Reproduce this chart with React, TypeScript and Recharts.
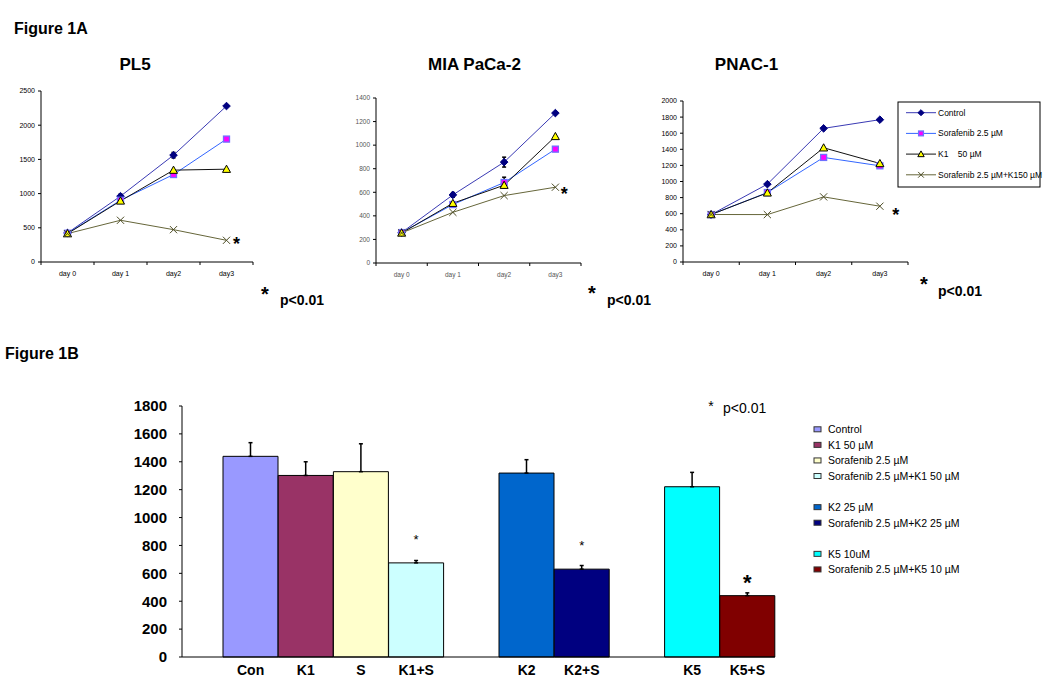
import React from 'react';
import { LineChart, Line, XAxis, YAxis, ErrorBar, LabelList, BarChart, Bar, Cell } from 'recharts';

// ---- Figure 1A data (cell counts per day) ----
const DAYS = ['day 0', 'day 1', 'day2', 'day3'];
const SERIES_NAMES = ['Control', 'Sorafenib 2.5 µM', 'K1 \u00a0\u00a0 50 µM', 'Sorafenib 2.5 µM+K150 µM'];

const PL5_CONTROL = [425, 962, 1562, 2280];
const PL5_SORAFENIB = [420, 903, 1279, 1797];
const PL5_K1 = [415, 893, 1343, 1357];
const PL5_COMBO = [415, 610, 473, 317];
const PL5_CONTROL_ERR = [0, 30, 40, 0];
const PL5_SORAFENIB_ERR = [0, 0, 0, 0];
const PL5_TICKS = [0, 500, 1000, 1500, 2000, 2500];

const MIA_CONTROL = [258, 578, 856, 1272];
const MIA_SORAFENIB = [258, 496, 683, 966];
const MIA_K1 = [255, 507, 660, 1074];
const MIA_COMBO = [255, 430, 572, 643];
const MIA_CONTROL_ERR = [0, 20, 42, 0];
const MIA_SORAFENIB_ERR = [0, 0, 45, 0];
const MIA_TICKS = [0, 200, 400, 600, 800, 1000, 1200, 1400];

const PNAC_CONTROL = [589, 967, 1660, 1768];
const PNAC_SORAFENIB = [589, 863, 1299, 1195];
const PNAC_K1 = [590, 859, 1419, 1224];
const PNAC_COMBO = [590, 589, 809, 693];
const PNAC_ERR = [0, 0, 0, 0];
const PNAC_TICKS = [0, 200, 400, 600, 800, 1000, 1200, 1400, 1600, 1800, 2000];

// ---- Figure 1B data ----
const BAR_LABELS = ['Con', 'K1', 'S', 'K1+S', ' ', 'K2', 'K2+S', '  ', 'K5', 'K5+S'];
const BAR_VALUES = [1439, 1302, 1329, 675, null, 1319, 630, null, 1221, 440];
const BAR_ERRORS = [98, 98, 200, 17, null, 96, 26, null, 103, 20];
const BAR_SIGNIFICANT = [false, false, false, true, false, false, true, false, false, true];
const BAR_LEGEND = [
  'Control',
  'K1 50 µM',
  'Sorafenib 2.5 µM',
  'Sorafenib 2.5 µM+K1 50 µM',
  null,
  'K2 25 µM',
  'Sorafenib 2.5 µM+K2 25 µM',
  null,
  'K5 10uM',
  'Sorafenib 2.5 µM+K5 10 µM',
];
const BAR_TICKS = [0, 200, 400, 600, 800, 1000, 1200, 1400, 1600, 1800];

// styles
const FONT = '"Liberation Sans", Arial, sans-serif';
const BAR_COLORS = ['#9999ff', '#993366', '#ffffcc', '#ccffff', 'none', '#0066cc', '#000080', 'none', '#00ffff', '#800000'];
const BIG_STAR_LABEL = 'K5+S';

const SERIES = [
  { key: 'control', kind: 'diamond', stroke: '#3a3ab4', fill: '#000080', mstroke: '#000080' },
  { key: 'sorafenib', kind: 'square', stroke: '#3366ff', fill: '#ff00ff', mstroke: '#6f6fff' },
  { key: 'k1', kind: 'triangle', stroke: '#111111', fill: '#ffff00', mstroke: '#000000' },
  { key: 'combo', kind: 'x', stroke: '#66663a', fill: 'none', mstroke: '#4d4d26' },
];

function Marker({ kind, cx, cy, fill, stroke, s = 1 }: any) {
  if (cx == null || cy == null) return null;
  if (kind === 'diamond') {
    const r = 3.8 * s;
    return <path d={`M${cx},${cy - r}L${cx + r},${cy}L${cx},${cy + r}L${cx - r},${cy}Z`} fill={fill} stroke={stroke} />;
  }
  if (kind === 'square') {
    const r = 3 * s;
    return <rect x={cx - r} y={cy - r} width={2 * r} height={2 * r} fill={fill} stroke={stroke} strokeWidth={1.3} />;
  }
  if (kind === 'triangle') {
    const r = 4 * s;
    return <path d={`M${cx},${cy - r}L${cx + r},${cy + r * 0.8}L${cx - r},${cy + r * 0.8}Z`} fill={fill} stroke={stroke} />;
  }
  const r = 3.6 * s;
  return (
    <g stroke={stroke} strokeWidth={1}>
      <line x1={cx - r} y1={cy - r} x2={cx + r} y2={cy + r} />
      <line x1={cx - r} y1={cy + r} x2={cx + r} y2={cy - r} />
    </g>
  );
}

function DayTick({ x, y, payload, index, half, fontSize, color }: any) {
  return (
    <g>
      <line x1={x - half} y1={y} x2={x - half} y2={y + 3} stroke="#000" />
      {index === DAYS.length - 1 && <line x1={x + half} y1={y} x2={x + half} y2={y + 3} stroke="#000" />}
      <text x={x} y={y + 14} textAnchor="middle" fontSize={fontSize} fill={color}>
        {payload.value}
      </text>
    </g>
  );
}

function GrowthChart({ values, errors, ticks, left, top, yWidth, marginTop, plotW, plotH, tickColor, tickFont, star }: any) {
  const [control, sorafenib, k1, combo] = values;
  const [cErr, sErr] = errors;
  const rows = DAYS.map((day, i) => ({
    day,
    control: control[i],
    sorafenib: sorafenib[i],
    k1: k1[i],
    combo: combo[i],
    controlErr: cErr[i],
    sorafenibErr: sErr[i],
  }));
  const max = ticks[ticks.length - 1];
  const half = plotW / DAYS.length / 2;
  return (
    <div style={{ position: 'absolute', left, top }}>
      <LineChart
        width={yWidth + plotW + 20}
        height={marginTop + plotH + 20}
        data={rows}
        margin={{ top: marginTop, right: 20, bottom: 0, left: 0 }}
      >
        <XAxis
          dataKey="day"
          height={20}
          padding={{ left: half, right: half }}
          tickSize={0}
          tickMargin={0}
          tickLine={false}
          axisLine={{ stroke: '#000' }}
          interval={0}
          tick={(p: any) => <DayTick {...p} half={half} fontSize={tickFont} color={tickColor} />}
        />
        <YAxis
          domain={[0, max]}
          ticks={ticks}
          width={yWidth}
          tickSize={3}
          tickMargin={3}
          interval={0}
          axisLine={{ stroke: '#000' }}
          tickLine={{ stroke: '#000' }}
          tick={{ fontSize: tickFont, fill: tickColor }}
        />
        {SERIES.map((st) => (
          <Line
            key={st.key}
            dataKey={st.key}
            stroke={st.stroke}
            strokeWidth={1}
            isAnimationActive={false}
            dot={(p: any) => (
              <Marker key={`${st.key}-${p.index}`} kind={st.kind} cx={p.cx} cy={p.cy} fill={st.fill} stroke={st.mstroke} />
            )}
            activeDot={false}
          >
            {st.key === 'control' && <ErrorBar dataKey="controlErr" width={2} stroke="#000" direction="y" />}
            {st.key === 'sorafenib' && <ErrorBar dataKey="sorafenibErr" width={2} stroke="#000" direction="y" />}
            {st.key === 'combo' && (
              <LabelList
                dataKey="combo"
                content={(p: any) =>
                  p.index === DAYS.length - 1 ? (
                    <text x={p.x + star[0]} y={p.y + star[1] + 10} fontSize={18} fontWeight="bold" textAnchor="middle" fill="#000">
                      *
                    </text>
                  ) : null
                }
              />
            )}
          </Line>
        ))}
      </LineChart>
    </div>
  );
}

function BarStar(p: any) {
  if (!p.value) return null;
  const big = p.value === BIG_STAR_LABEL;
  return (
    <text
      x={p.x + p.width / 2}
      y={big ? p.y - 6 : p.y - 19}
      fontSize={big ? 22 : 13}
      fontWeight={big ? 'bold' : 'normal'}
      textAnchor="middle"
      fill="#000"
    >
      *
    </text>
  );
}

export default function App() {
  const barRows = BAR_LABELS.map((label, i) => ({
    label,
    value: BAR_VALUES[i],
    err: BAR_ERRORS[i],
    star: BAR_SIGNIFICANT[i] ? label : '',
  }));

  return (
    <div style={{ position: 'absolute', left: 0, top: 0, width: 1050, height: 692, background: '#fff', fontFamily: FONT, overflow: 'hidden' }}>
      <GrowthChart
        values={[PL5_CONTROL, PL5_SORAFENIB, PL5_K1, PL5_COMBO]}
        errors={[PL5_CONTROL_ERR, PL5_SORAFENIB_ERR]}
        ticks={PL5_TICKS}
        left={0}
        top={80}
        yWidth={41}
        marginTop={11}
        plotW={212}
        plotH={171}
        tickColor="#000"
        tickFont={7}
        star={[10, 0]}
      />
      <GrowthChart
        values={[MIA_CONTROL, MIA_SORAFENIB, MIA_K1, MIA_COMBO]}
        errors={[MIA_CONTROL_ERR, MIA_SORAFENIB_ERR]}
        ticks={MIA_TICKS}
        left={330}
        top={80}
        yWidth={46}
        marginTop={18}
        plotW={205}
        plotH={165}
        tickColor="#555"
        tickFont={6.5}
        star={[9, 3]}
      />
      <GrowthChart
        values={[PNAC_CONTROL, PNAC_SORAFENIB, PNAC_K1, PNAC_COMBO]}
        errors={[PNAC_ERR, PNAC_ERR]}
        ticks={PNAC_TICKS}
        left={640}
        top={80}
        yWidth={43}
        marginTop={21}
        plotW={225}
        plotH={161}
        tickColor="#000"
        tickFont={7}
        star={[16, 5]}
      />

      <div style={{ position: 'absolute', left: 120, top: 395 }}>
        <BarChart width={660} height={292} data={barRows} margin={{ top: 11, right: 5, bottom: 0, left: 0 }} barCategoryGap={0}>
          <XAxis
            dataKey="label"
            padding={{ left: 41, right: 0 }}
            tickLine={false}
            tickSize={0}
            tickMargin={8}
            height={30}
            interval={0}
            axisLine={{ stroke: '#000' }}
            tick={{ fontSize: 14, fontWeight: 'bold', fill: '#000' }}
          />
          <YAxis
            domain={[0, 1800]}
            ticks={BAR_TICKS}
            interval={0}
            width={62}
            tickSize={3}
            tickMargin={12}
            axisLine={{ stroke: '#000' }}
            tickLine={{ stroke: '#000' }}
            tick={{ fontSize: 15, fontWeight: 'bold', fill: '#000' }}
          />
          <Bar dataKey="value" stroke="#000" strokeWidth={1} isAnimationActive={false}>
            {barRows.map((r, i) => (
              <Cell key={r.label + i} fill={BAR_COLORS[i]} />
            ))}
            <ErrorBar dataKey={(d: any) => [0, d.err ?? 0]} width={2} stroke="#000" direction="y" />
            <LabelList dataKey="star" content={BarStar} />
          </Bar>
        </BarChart>
      </div>

      <svg width={1050} height={692} style={{ position: 'absolute', left: 0, top: 0, pointerEvents: 'none' }} fontFamily={FONT}>
        <text x={14} y={34} fontSize={16} fontWeight="bold">Figure 1A</text>
        <text x={5} y={359} fontSize={16} fontWeight="bold">Figure 1B</text>

        <text x={135} y={69.6} fontSize={17} fontWeight="bold" textAnchor="middle">PL5</text>
        <text x={474.5} y={69.6} fontSize={17} fontWeight="bold" textAnchor="middle">MIA PaCa-2</text>
        <text x={746.5} y={69.6} fontSize={17} fontWeight="bold" textAnchor="middle">PNAC-1</text>

        <text x={265} y={301} fontSize={20} fontWeight="bold" textAnchor="middle">*</text>
        <text x={280} y={305} fontSize={14} fontWeight="bold">p&lt;0.01</text>
        <text x={592} y={300} fontSize={20} fontWeight="bold" textAnchor="middle">*</text>
        <text x={607} y={305} fontSize={14} fontWeight="bold">p&lt;0.01</text>
        <text x={924} y={291} fontSize={20} fontWeight="bold" textAnchor="middle">*</text>
        <text x={938} y={296} fontSize={14} fontWeight="bold">p&lt;0.01</text>

        {/* PNAC-1 legend */}
        <rect x={898} y={102} width={142} height={85} fill="#fff" stroke="#000" />
        {SERIES.map((st, i) => {
          const cy = 112.7 + i * 20.7;
          return (
            <g key={st.key}>
              <line x1={906} y1={cy} x2={936} y2={cy} stroke={st.stroke} />
              <Marker kind={st.kind} cx={921} cy={cy} fill={st.fill} stroke={st.mstroke} s={0.8} />
              <text x={938} y={cy + 3} fontSize={8.5}>{SERIES_NAMES[i]}</text>
            </g>
          );
        })}

        {/* Figure 1B annotation and legend */}
        <text x={711} y={411} fontSize={14} textAnchor="middle">*</text>
        <text x={723} y={413} fontSize={14}>p&lt;0.01</text>
        {BAR_LEGEND.map((name, i) => {
          if (!name) return null;
          const cy = 429.3 + i * 15.57;
          return (
            <g key={name}>
              <rect x={814} y={cy - 2.5} width={7} height={5} fill={BAR_COLORS[i]} stroke="#333" />
              <text x={828} y={cy + 3.8} fontSize={10.5}>{name}</text>
            </g>
          );
        })}
      </svg>
    </div>
  );
}
